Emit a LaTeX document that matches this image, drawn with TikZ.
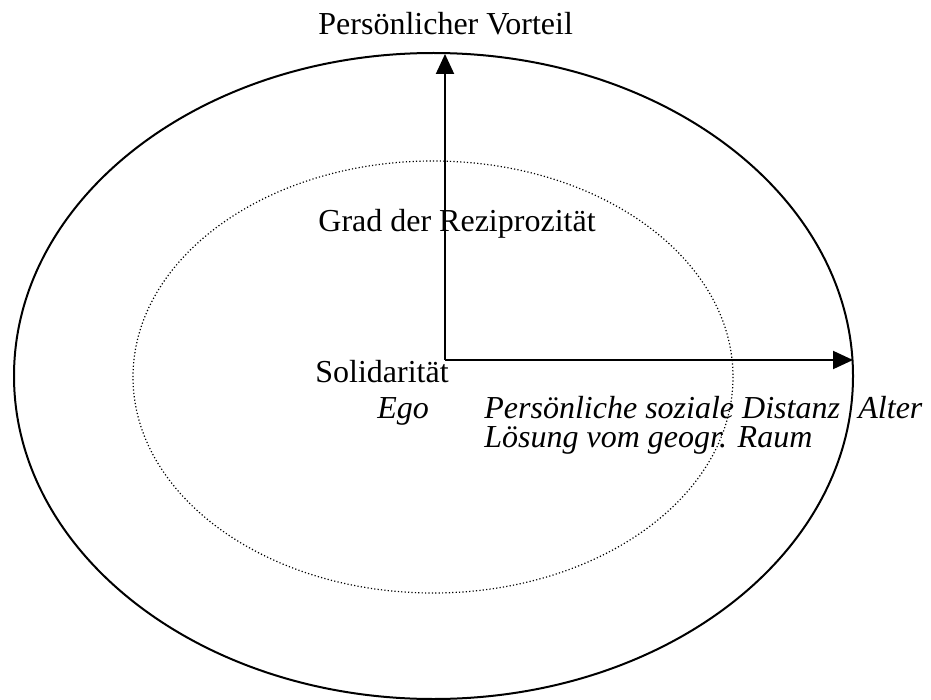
\documentclass[tikz,border=0pt]{standalone}
\usepackage{fontspec}
\setmainfont{Liberation Serif}
\usetikzlibrary{arrows.meta}
\tikzstyle{axis} = [line width=1pt, -{Triangle[length=10pt,width=9pt]}]
\tikzstyle{ring} = [line width=1pt]
\tikzset{
	dotring/.style={line width=0.6pt, dash pattern=on 0.6pt off 1.1pt},
	words/.style={anchor=base west, inner sep=0pt, font=\fontsize{16}{19}\selectfont},
	slantwords/.style={words, font=\fontsize{16}{19}\selectfont\itshape},
}

\begin{document}
\begin{tikzpicture}[x=0.5pt, y=-0.5pt]
\useasboundingbox (0,0) rectangle (931,700);

% rings
\draw [ring] (433.5,376) ellipse [x radius=419.5, y radius=323];
\draw [dotring] (433,377) ellipse [x radius=300, y radius=216];

\coordinate (origin) at (445,360);
\coordinate (top) at (445,54);
\coordinate (right) at (853,360);

\draw [axis] (origin) -- (top);
\draw [axis] (origin) -- (right);

\node [words] (vorteil) at (318,35) {Persönlicher Vorteil};
\node [words] (grad) at (318,232) {Grad der Reziprozität};
\node [words] (solidaritaet) at (315,382) {Solidarität};
\node [slantwords] (ego) at (377,418) {Ego};
\node [slantwords] (distanz) at (484,418) {Persönliche soziale Distanz};
\node [slantwords] (alter) at (858,418) {Alter};
\node [slantwords] (loesung) at (484,447) {Lösung vom geogr. Raum};

\end{tikzpicture}
\end{document}
